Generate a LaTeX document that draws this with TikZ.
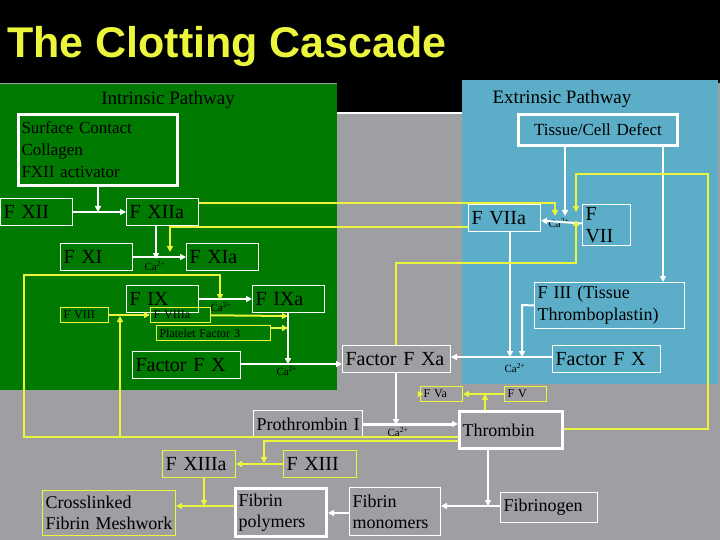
\documentclass[tikz,border=0pt]{standalone}
\usepackage{fontspec}
\setmainfont{Liberation Serif}
\newfontfamily\titlefont{Liberation Sans}
\usetikzlibrary{arrows.meta}
\definecolor{bggray}{RGB}{158,158,163}
\definecolor{bggreen}{RGB}{0,122,0}
\definecolor{bgblue}{RGB}{92,174,200}
\definecolor{ylw}{RGB}{235,245,60}
\newcommand\bx[7]{\node[#1, text width=#5pt-6pt, minimum height=#6pt] (#2) at (#3,#4) {#7};}
\begin{document}
\begin{tikzpicture}[x=1pt, y=-1pt,
        >={Triangle[length=6pt,width=6pt]}, % arrow head style
        wbox/.style={draw=white, line width=1pt, anchor=north west, inner sep=3pt,
                     align=left, text=black, font=\fontsize{20}{22}\selectfont},
        thick box/.style={wbox, line width=3pt},
        ybox/.style={wbox, draw=ylw, font=\fontsize{12}{13}\selectfont},
        wline/.style={white, line width=2pt},
        yline/.style={ylw, line width=2pt},
        ca/.style={inner sep=0pt, text=black, font=\fontsize{11}{12}\selectfont}
    ]
    % backgrounds
    \fill[bggray] (0,0) rectangle (720,540);
    \fill[black] (0,0) rectangle (720,83);
    \fill[black] (337,83) rectangle (462,112);
    \draw[white, line width=2pt] (337,113) -- (462,113);
    \fill[bggreen] (0,84) rectangle (337,390);
    \fill[bgblue] (462,80) rectangle (718,384);
    \node[anchor=west, inner sep=0pt, text=ylw, font=\titlefont\bfseries\fontsize{43}{45}\selectfont]
        (title) at (7,46) {The Clotting Cascade};
    \node[text=black, font=\fontsize{19}{21}\selectfont] (intr) at (168,100) {Intrinsic Pathway};
    \node[text=black, font=\fontsize{19}{21}\selectfont] (extr) at (562,99) {Extrinsic Pathway};

    % boxes
    \bx{thick box, font=\fontsize{17}{22}\selectfont}{surf}{17}{113}{159}{71}{Surface Contact\\Collagen\\FXII activator}
    \bx{thick box, font=\fontsize{17}{19}\selectfont, align=center}{tissue}{517}{113}{159}{31}{Tissue/Cell Defect}
    \bx{wbox}{fxii}{0}{198}{72}{27}{F XII}
    \bx{wbox}{fxiia}{126}{198}{72}{27}{F XIIa}
    \bx{wbox}{fxi}{60}{243}{72}{27}{F XI}
    \bx{wbox}{fxia}{186}{243}{72}{27}{F XIa}
    \bx{wbox}{fix}{126}{285}{72}{27}{F IX}
    \bx{wbox}{fixa}{252}{285}{72}{27}{F IXa}
    \bx{ybox}{fviii}{60}{307}{48}{15}{F VIII}
    \bx{ybox}{fviiia}{150}{307}{60}{15}{F VIIIa}
    \bx{ybox}{pf}{156}{325}{114}{15}{Platelet Factor 3}
    \bx{wbox}{fxl}{132}{351}{108}{27}{Factor F X}
    \bx{wbox}{fxa}{342}{345}{108}{27}{Factor F Xa}
    \bx{wbox}{fviia}{468}{204}{72}{27}{F VIIa}
    \bx{wbox}{fvii}{582}{204}{48}{27}{F VII}
    \bx{wbox, font=\fontsize{18}{22}\selectfont}{fiii}{534}{282}{150}{46}{F III (Tissue\\Thromboplastin)}
    \bx{wbox}{fxr}{552}{345}{108}{27}{Factor F X}
    \bx{ybox}{fva}{420}{386}{42}{15}{F Va}
    \bx{ybox}{fv}{504}{386}{42}{15}{F V}
    \bx{wbox, font=\fontsize{18}{20}\selectfont}{proth}{253}{410}{109}{27}{Prothrombin I}
    \bx{thick box, font=\fontsize{18}{20}\selectfont}{thromb}{458}{410}{103}{37}{Thrombin}
    \bx{wbox, draw=ylw}{fxiiia}{162}{450}{73}{27}{F XIIIa}
    \bx{wbox, draw=ylw}{fxiii}{283}{450}{73}{27}{F XIII}
    \bx{wbox, draw=ylw, font=\fontsize{18}{21}\selectfont}{cross}{42}{490}{133}{45}{Crosslinked\\Fibrin Meshwork}
    \bx{thick box, font=\fontsize{18}{21}\selectfont}{fpoly}{234}{487}{91}{48}{Fibrin\\polymers}
    \bx{wbox, font=\fontsize{18}{21}\selectfont}{fmono}{349}{487}{91}{48}{Fibrin\\monomers}
    \bx{wbox, font=\fontsize{18}{20}\selectfont}{fgen}{500}{492}{97}{30}{Fibrinogen}

    % calcium labels
    \node[ca] (ca1) at (155,266) {Ca\textsuperscript{2+}};
    \node[ca] (ca2) at (221,307) {Ca\textsuperscript{2+}};
    \node[ca] (ca3) at (287,371) {Ca\textsuperscript{2+}};
    \node[ca] (ca4) at (559,223) {Ca\textsuperscript{2+}};
    \node[ca] (ca5) at (515,368) {Ca\textsuperscript{2+}};
    \node[ca] (ca6) at (398,432) {Ca\textsuperscript{2+}};

    % junctions
    \coordinate (jxi) at (156,259);
    \coordinate (jix) at (220,300);
    \coordinate (jixa) at (288,316);
    \coordinate (jpf) at (288,328);
    \coordinate (jx) at (288,364);
    \coordinate (jviia) at (555,216);
    \coordinate (jxr) at (510,357);
    \coordinate (jthr) at (396,425);
    \coordinate (jfib) at (488,506);
    \coordinate (jcross) at (204,506);
    \coordinate (jxiii) at (264,463);
    \coordinate (jviii) at (120,316);
    \coordinate (jv) at (485,394);

    % white connectors
    \draw[wline, ->] (surf.south) -- (surf.south |- fxii.east);
    \draw[wline, ->] (fxii) -- (fxiia);
    \draw[wline, ->] (fxiia.south -| jxi) -- (jxi);
    \draw[wline, ->] (fxi) -- (fxia);
    \draw[wline, ->] (fix) -- (fixa);
    \draw[wline, ->] (fixa.south -| jx) -- (jx);
    \draw[wline, ->] (fxl.east |- jx) -- (fxa.west |- jx);
    \draw[wline, ->] (tissue.south -| 565,0) -- (565,216);
    \draw[wline, ->] (tissue.south -| 663,0) -- (fiii.north -| 663,0);
    \draw[wline, ->] (fvii) -- (fviia);
    \draw[wline, ->] (fviia.south -| jxr) -- (jxr);
    \draw[wline, ->] (fiii.west) -- (522,305) -- (522,357);
    \draw[wline, ->] (fxr.west |- jxr) -- (fxa.east |- jxr);
    \draw[wline, ->] (fxa.south -| jthr) -- (jthr);
    \draw[white, line width=3pt, ->] (proth) -- (thromb.west |- proth);
    \draw[wline, ->] (thromb.south -| jfib) -- (jfib);
    \draw[wline, ->] (fgen.west |- jfib) -- (fmono.east |- jfib);
    \draw[wline, ->] (fmono.west |- 0,513) -- (fpoly.east |- 0,513);

    % yellow connectors
    \draw[yline, ->] (fxiia.east |- 0,203) -- (555,203) -- (jviia);
    \draw[yline, ->] (fviia.west |- 0,227) -- (170,227) -- (170,252);
    \draw[yline, ->] (thromb.east |- 0,429) -- (708,429) -- (708,174) -- (576,174) -- (576,212);
    \draw[yline, ->] (fxa.north -| 396,0) -- (396,263) -- (576,263) -- (576,220);
    \draw[yline, ->] (thromb.west |- 0,437) -- (24,437) -- (24,275) -- (220,275) -- (jix);
    \draw[yline, ->] (120,437) -- (jviii);
    \draw[yline, ->] (fviii) -- (fviiia);
    \draw[yline, ->] (fviiia) -- (jixa);
    \draw[yline, ->] (pf.east |- jpf) -- (jpf);
    \draw[yline, ->] (thromb.west |- 0,441) -- (264,441) -- (jxiii);
    \draw[yline, ->] (fxiii) -- (fxiiia);
    \draw[yline, ->] (fxiiia.south -| jcross) -- (jcross);
    \draw[yline, ->] (fpoly.west |- jcross) -- (cross.east |- jcross);
    \draw[yline, ->] (fv) -- (fva);
    \draw[yline, ->] (fva) -- ++(-18,0);
    \draw[yline, ->] (thromb.north -| jv) -- (jv);
\end{tikzpicture}
\end{document}
